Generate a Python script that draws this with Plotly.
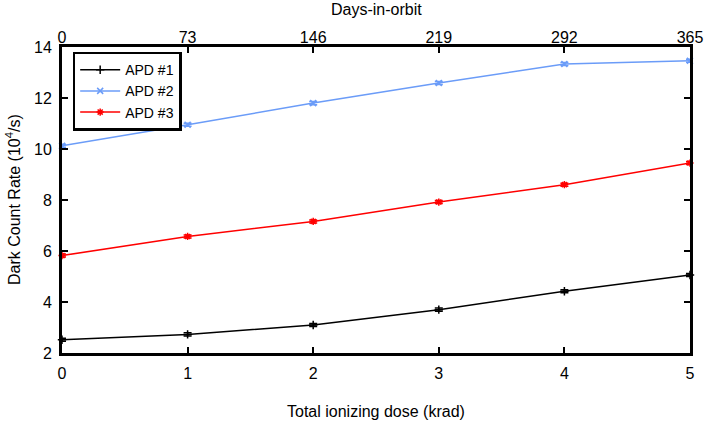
import plotly.graph_objects as go

dose = [0, 1, 2, 3, 4, 5]
days_ticks = [0, 73, 146, 219, 292, 365]
apd1 = [2.52, 2.73, 3.10, 3.70, 4.42, 5.06]
apd2 = [10.13, 10.95, 11.80, 12.59, 13.33, 13.46]
apd3 = [5.82, 6.57, 7.16, 7.92, 8.60, 9.45]
err = [0.06, 0.06, 0.06, 0.06, 0.06, 0.06]

FONT = "Liberation Sans, Arial, sans-serif"
fig = go.Figure()

series = [
    ("APD #1", apd1, "#000000", "cross-thin"),
    ("APD #2", apd2, "#6b9cf8", "x-thin"),
    ("APD #3", apd3, "#ff0000", "asterisk"),
]
for name, ys, col, sym in series:
    fig.add_trace(go.Scatter(
        x=dose, y=ys, name=name, mode="lines+markers",
        line=dict(color=col, width=1.5),
        marker=dict(symbol=sym, size=6, color=col, line=dict(color=col, width=1.5)),
        error_y=dict(type="data", array=err, color=col, thickness=1.5, width=4),
        cliponaxis=False,
    ))

# invisible trace for top axis
fig.add_trace(go.Scatter(x=days_ticks, y=[None]*len(days_ticks), xaxis="x2",
                         showlegend=False, hoverinfo="skip"))

tickfont = dict(family=FONT, size=16, color="black")
axis_common = dict(showline=True, linecolor="black", linewidth=3, mirror="ticks",
                   ticks="inside", ticklen=6, tickwidth=2, tickcolor="black",
                   showgrid=False, zeroline=False, automargin=False,
                   tickfont=tickfont)

fig.update_layout(
    width=706, height=424,
    margin=dict(l=62, r=16, t=47, b=71),
    plot_bgcolor="white", paper_bgcolor="white",
    font=dict(family=FONT, size=16, color="black"),
    xaxis=dict(range=[0, 5], tickvals=dose, ticklabelstandoff=4, **axis_common),
    xaxis2=dict(range=[0, 365], tickvals=days_ticks, overlaying="x", side="top",
                showline=False, ticks="", showgrid=False, zeroline=False,
                automargin=False, tickfont=tickfont),
    yaxis=dict(range=[2, 14], tickvals=[2, 4, 6, 8, 10, 12, 14], ticklabelstandoff=4,
               **axis_common),
    legend=dict(x=0.017, y=0.985, xanchor="left", yanchor="top",
                bgcolor="white", bordercolor="black", borderwidth=2.5,
                font=dict(family=FONT, size=14), tracegroupgap=0,
                itemwidth=40),
    annotations=[
        dict(text="Days-in-orbit", xref="paper", yref="paper", x=0.5, y=1.121,
             xanchor="center", yanchor="middle", showarrow=False, font=dict(size=16)),
        dict(text="Total ionizing dose (krad)", xref="paper", yref="paper", x=0.5, y=-0.19,
             xanchor="center", yanchor="middle", showarrow=False, font=dict(size=16)),
        dict(text="Dark Count Rate (10<sup>4</sup>/s)", xref="paper", yref="paper",
             x=-0.078, y=0.5, xanchor="center", yanchor="middle", textangle=-90,
             showarrow=False, font=dict(size=16)),
    ],
)

fig.write_html("out.html", config={"displayModeBar": False},
               post_script="document.body.style.margin='0';")
